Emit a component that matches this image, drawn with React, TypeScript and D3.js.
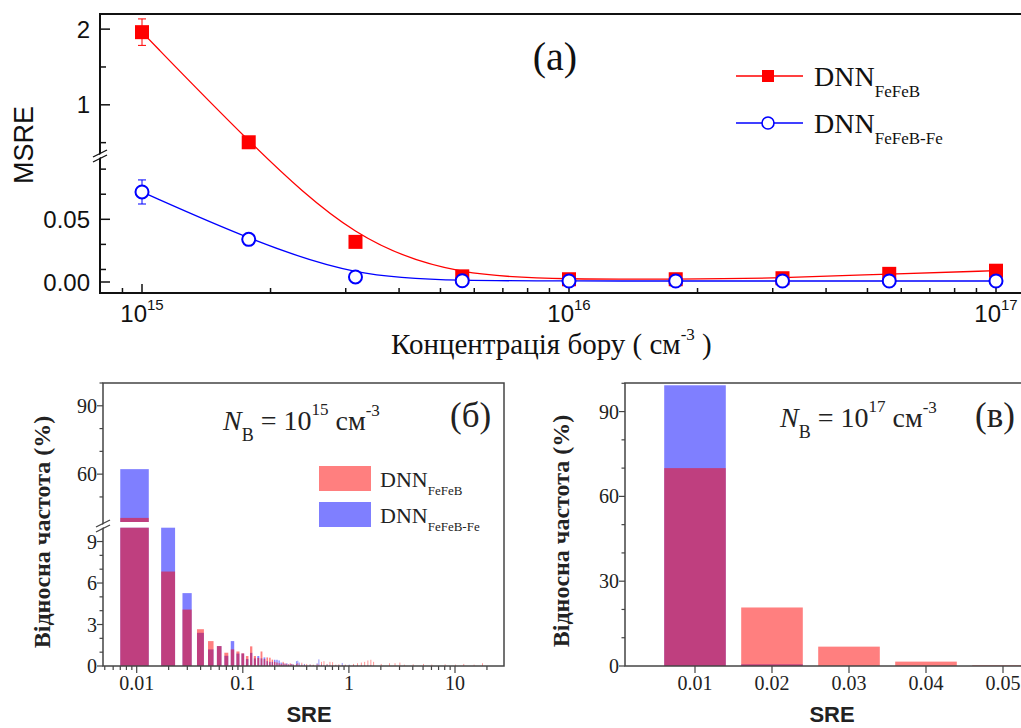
import React from 'react';
import * as d3 from 'd3';

const SERIF = '"Liberation Serif", "Times New Roman", serif';
const SANS = '"Liberation Sans", Arial, sans-serif';

// ---------- (a) MSRE vs boron concentration ----------
const boronConc = [1e15, 1.778e15, 3.162e15, 5.623e15, 1e16, 1.778e16, 3.162e16, 5.623e16, 1e17];
const msreFeFeB = [1.96, 0.505, 0.032, 0.0045, 0.0022, 0.0022, 0.003, 0.0065, 0.009];
const msreFeFeBErr = [0.175, 0, 0, 0, 0, 0, 0, 0, 0];
const msreFeFeBFe = [0.0718, 0.034, 0.004, 0.001, 0.0008, 0.0008, 0.0008, 0.0008, 0.0008];
const msreFeFeBFeErr = [0.0096, 0, 0, 0, 0, 0, 0, 0, 0];
const msreUpperTicks = [1, 2];
const msreUpperMinor = [0.5, 1.5];
const msreLowerTicks = [0, 0.05];
const msreLowerMinor = [0.01, 0.03, 0.07, 0.09];
const msreLowerLabels = ['0.00', '0.05'];
const concDecades = [15, 16, 17];

// ---------- (б) SRE histogram, N_B = 1e15 ----------
const sreBinsB = [
  0.01, 0.02, 0.03, 0.04, 0.05, 0.06, 0.07, 0.08, 0.09, 0.10,
  0.11, 0.12, 0.13, 0.14, 0.15, 0.16, 0.17, 0.18, 0.19, 0.20,
  0.21, 0.22, 0.23, 0.24, 0.25, 0.26, 0.27, 0.28, 0.29, 0.30,
  0.32, 0.33, 0.34, 0.36, 0.38, 0.40, 0.43, 0.46, 0.50, 0.52,
  0.55, 0.58, 0.62, 0.66, 0.70, 0.75, 0.80, 0.86, 0.92, 1.0,
  1.1, 1.2, 1.3, 1.4, 1.5, 1.6, 1.7, 2.0, 2.4, 2.7,
  3.0, 3.3, 4.0, 5.0, 6.0, 8.0, 10, 12, 15, 18,
];
const freqFeFeB_B = [
  40.8, 6.83, 4.08, 2.66, 1.8, 1.44, 0.96, 1.2, 1.05, 0.92,
  0.72, 1.42, 0.72, 0.58, 1.05, 0.5, 0.62, 0.6, 0.46, 0.3,
  0.25, 0.2, 0.15, 0.3, 0.2, 0.15, 0.12, 0.2, 0.15, 0.1,
  0.15, 0.2, 0.1, 0.24, 0.1, 0.15, 0.12, 0.1, 0.15, 0.1,
  0.3, 0.35, 0.15, 0.3, 0.28, 0.1, 0.12, 0.08, 0.1, 0.05,
  0.15, 0.2, 0.25, 0.3, 0.4, 0.45, 0.3, 0.15, 0.2, 0.2,
  0.25, 0.1, 0.12, 0.15, 0.1, 0.12, 0.1, 0.15, 0.1, 0.2,
];
const freqFeFeBFe_B = [
  62.2, 12, 5.27, 2.4, 1.2, 1.44, 0.74, 1.8, 0.9, 0.9,
  0.5, 0.95, 0.55, 0.72, 0.55, 0.62, 0.35, 0.3, 0.3, 0.45,
  0.45, 0.4, 0.25, 0.2, 0.15, 0.2, 0.1, 0.12, 0.15, 0.1,
  0.35, 0.38, 0.25, 0.1, 0.15, 0.05, 0.1, 0.05, 0.2, 0.48,
  0.1, 0.05, 0.1, 0.05, 0.05, 0.05, 0.05, 0.22, 0.05, 0.1,
  0.05, 0.05, 0.05, 0.05, 0.05, 0.05, 0, 0, 0, 0,
  0, 0, 0, 0, 0, 0, 0, 0, 0, 0,
];
const sreTicksB = [0.01, 0.1, 1, 10];
const sreTickLabelsB = ['0.01', '0.1', '1', '10'];
const freqLowerTicksB = [0, 3, 6, 9];
const freqLowerMinorB = [1, 2, 4, 5, 7, 8, 10];
const freqUpperTicksB = [60, 90];
const freqUpperMinorB = [50, 70, 80, 100];

// ---------- (в) SRE histogram, N_B = 1e17 ----------
const sreBinsV = [0.01, 0.02, 0.03, 0.04, 0.05];
const freqFeFeB_V = [70, 20.7, 6.85, 1.55, 0.25];
const freqFeFeBFe_V = [99.3, 0.6, 0, 0, 0];
const sreTickLabelsV = ['0.01', '0.02', '0.03', '0.04', '0.05'];
const freqTicksV = [0, 30, 60, 90];
const freqMinorV = [10, 20, 40, 50, 70, 80, 100];

const RED = '#ff0000';
const BLUE = '#0000ff';

function BreakMark({ x, y, color }: { x: number; y: number; color: string }) {
  return (
    <g>
      <polygon points={`${x - 7},${y + 3} ${x + 7},${y - 4} ${x + 7},${y - 1} ${x - 7},${y + 6}`} fill="#fff" />
      <line x1={x - 7} y1={y + 2} x2={x + 7} y2={y - 5} stroke={color} strokeWidth={1.3} />
      <line x1={x - 7} y1={y + 7} x2={x + 7} y2={y} stroke={color} strokeWidth={1.3} />
    </g>
  );
}

function PanelA() {
  const x = d3.scaleLog().domain([1e15, 1e17]).range([142, 996]);
  const yUp = d3.scaleLinear().domain([0.35, 2.2]).range([154, 14]);
  const yLow = d3.scaleLinear().domain([0, 0.1]).range([282, 156.6]);
  const y = (v: number) => (v >= 0.35 ? yUp(v) : yLow(v));
  const left = 100, top = 14, bottom = 293, right = 1040;

  const line = d3
    .line<[number, number]>()
    .x((d) => x(d[0]))
    .y((d) => y(d[1]))
    .curve(d3.curveBasis);

  const redPts = boronConc.map((c, i) => [c, msreFeFeB[i]] as [number, number]);
  const bluePts = boronConc.map((c, i) => [c, msreFeFeBFe[i]] as [number, number]);

  const minors: number[] = [];
  for (let e = 14; e <= 16; e++) for (let k = 2; k <= 9; k++) {
    const v = k * Math.pow(10, e);
    const px = x(v);
    if (px > left + 1 && px < right) minors.push(v);
  }

  return (
    <g>
      {/* frame */}
      <rect x={left} y={top} width={right - left} height={bottom - top} fill="none" stroke="#111" strokeWidth={2} />
      {/* x ticks (inward) */}
      {minors.map((v, i) => (
        <line key={'mx' + i} x1={x(v)} x2={x(v)} y1={bottom} y2={bottom - 5} stroke="#111" strokeWidth={1.5} />
      ))}
      {concDecades.map((e) => (
        <g key={'dx' + e}>
          <line x1={x(Math.pow(10, e))} x2={x(Math.pow(10, e))} y1={bottom} y2={bottom - 9} stroke="#111" strokeWidth={1.5} />
          <text x={x(Math.pow(10, e))} y={322} textAnchor="middle" fontFamily={SANS} fontSize={24} fill="#111">
            10<tspan dy={-12} fontSize={15}>{e}</tspan>
          </text>
        </g>
      ))}
      {/* y ticks (inward) */}
      {msreUpperTicks.map((v) => (
        <g key={'yu' + v}>
          <line x1={left} x2={left + 10} y1={yUp(v)} y2={yUp(v)} stroke="#111" strokeWidth={1.5} />
          <text x={90} y={yUp(v) + 8.5} textAnchor="end" fontFamily={SANS} fontSize={24} fill="#111">{v}</text>
        </g>
      ))}
      {msreUpperMinor.map((v) => (
        <line key={'yum' + v} x1={left} x2={left + 6} y1={yUp(v)} y2={yUp(v)} stroke="#111" strokeWidth={1.5} />
      ))}
      {msreLowerTicks.map((v, i) => (
        <g key={'yl' + v}>
          <line x1={left} x2={left + 10} y1={yLow(v)} y2={yLow(v)} stroke="#111" strokeWidth={1.5} />
          <text x={90} y={yLow(v) + 8.5} textAnchor="end" fontFamily={SANS} fontSize={24} fill="#111">{msreLowerLabels[i]}</text>
        </g>
      ))}
      {msreLowerMinor.map((v) => (
        <line key={'ylm' + v} x1={left} x2={left + 6} y1={yLow(v)} y2={yLow(v)} stroke="#111" strokeWidth={1.5} />
      ))}
      <BreakMark x={left} y={155} color="#111" />

      {/* curves */}
      <path d={line(redPts) || ''} fill="none" stroke={RED} strokeWidth={1.3} />
      <path d={line(bluePts) || ''} fill="none" stroke={BLUE} strokeWidth={1.3} />

      {/* error bars */}
      {redPts.map((p, i) =>
        msreFeFeBErr[i] > 0 ? (
          <g key={'er' + i} stroke={RED} strokeWidth={1}>
            <line x1={x(p[0])} x2={x(p[0])} y1={y(p[1] + msreFeFeBErr[i])} y2={y(p[1] - msreFeFeBErr[i])} />
            <line x1={x(p[0]) - 4} x2={x(p[0]) + 4} y1={y(p[1] + msreFeFeBErr[i])} y2={y(p[1] + msreFeFeBErr[i])} />
            <line x1={x(p[0]) - 4} x2={x(p[0]) + 4} y1={y(p[1] - msreFeFeBErr[i])} y2={y(p[1] - msreFeFeBErr[i])} />
          </g>
        ) : null
      )}
      {bluePts.map((p, i) =>
        msreFeFeBFeErr[i] > 0 ? (
          <g key={'eb' + i} stroke={BLUE} strokeWidth={1}>
            <line x1={x(p[0])} x2={x(p[0])} y1={y(p[1] + msreFeFeBFeErr[i])} y2={y(p[1] - msreFeFeBFeErr[i])} />
            <line x1={x(p[0]) - 4} x2={x(p[0]) + 4} y1={y(p[1] + msreFeFeBFeErr[i])} y2={y(p[1] + msreFeFeBFeErr[i])} />
            <line x1={x(p[0]) - 4} x2={x(p[0]) + 4} y1={y(p[1] - msreFeFeBFeErr[i])} y2={y(p[1] - msreFeFeBFeErr[i])} />
          </g>
        ) : null
      )}

      {/* markers */}
      {redPts.map((p, i) => (
        <rect key={'rs' + i} x={x(p[0]) - 7} y={y(p[1]) - 7} width={14} height={14} fill={RED} />
      ))}
      {bluePts.map((p, i) => (
        <circle key={'bc' + i} cx={x(p[0])} cy={y(p[1])} r={6.5} fill="#fff" stroke={BLUE} strokeWidth={2} />
      ))}

      {/* labels */}
      <text transform="translate(33,145) rotate(-90)" textAnchor="middle" fontFamily={SANS} fontSize={27} fill="#111">MSRE</text>
      <text x={391} y={354} fontFamily={SERIF} fontSize={29} fill="#111">
        Концентрація бору ( см<tspan dy={-14} fontSize={17}>-3</tspan><tspan dy={14}> )</tspan>
      </text>
      <text x={555} y={70} textAnchor="middle" fontFamily={SERIF} fontSize={40} fill="#111">(a)</text>

      {/* legend */}
      <line x1={736} x2={803} y1={76} y2={76} stroke={RED} strokeWidth={1.3} />
      <rect x={762} y={70} width={12} height={12} fill={RED} />
      <text x={814} y={86} fontFamily={SERIF} fontSize={28} fill="#111">
        DNN<tspan dy={11} fontSize={17}>FeFeB</tspan>
      </text>
      <line x1={736} x2={803} y1={123} y2={123} stroke={BLUE} strokeWidth={1.3} />
      <circle cx={768} cy={123} r={6} fill="#fff" stroke={BLUE} strokeWidth={1.6} />
      <text x={814} y={133} fontFamily={SERIF} fontSize={28} fill="#111">
        DNN<tspan dy={11} fontSize={17}>FeFeB-Fe</tspan>
      </text>
    </g>
  );
}

function PanelB() {
  const x = d3.scaleLog().domain([0.01, 10]).range([136.7, 455]);
  const yLow = d3.scaleLinear().domain([0, 10]).range([666, 527.7]);
  const yUp = d3.scaleLinear().domain([39, 100]).range([522, 383]);
  const left = 103, right = 504, top = 383, bottom = 666;
  const half = 0.003;
  const axisColor = '#444';

  const bars = (vals: number[], color: string, key: string) =>
    sreBinsB.map((c, i) => {
      const v = vals[i];
      if (!v) return null;
      const x0 = x(c - half);
      const x1 = x(c + half);
      const w = Math.max(x1 - x0, 0.8);
      const yl = yLow(Math.min(v, 10));
      return (
        <g key={key + i}>
          <rect x={x0} y={yl} width={w} height={bottom - yl} fill={color} fillOpacity={0.5} />
          {v > 39 ? (
            <rect x={x0} y={yUp(Math.min(v, 100))} width={w} height={522 - yUp(Math.min(v, 100))} fill={color} fillOpacity={0.5} />
          ) : null}
        </g>
      );
    });

  const minors: number[] = [];
  for (let e = -3; e <= 1; e++) for (let k = 2; k <= 9; k++) {
    const v = k * Math.pow(10, e);
    const px = x(v);
    if (px > left && px < right) minors.push(v);
  }

  return (
    <g>
      {bars(freqFeFeBFe_B, BLUE, 'bb')}
      {bars(freqFeFeB_B, RED, 'rb')}
      <rect x={left} y={top} width={right - left} height={bottom - top} fill="none" stroke={axisColor} strokeWidth={1.5} />
      {minors.map((v, i) => (
        <line key={'mx' + i} x1={x(v)} x2={x(v)} y1={bottom} y2={bottom + 4} stroke={axisColor} strokeWidth={1.2} />
      ))}
      {sreTicksB.map((v, i) => (
        <g key={'tx' + i}>
          <line x1={x(v)} x2={x(v)} y1={bottom} y2={bottom + 7} stroke={axisColor} strokeWidth={1.2} />
          <text x={x(v)} y={690} textAnchor="middle" fontFamily={SERIF} fontSize={20} fill="#222">{sreTickLabelsB[i]}</text>
        </g>
      ))}
      {freqLowerTicksB.map((v) => (
        <g key={'yl' + v}>
          <line x1={left} x2={left - 6} y1={yLow(v)} y2={yLow(v)} stroke={axisColor} strokeWidth={1.2} />
          <text x={97} y={yLow(v) + 7} textAnchor="end" fontFamily={SERIF} fontSize={20} fill="#222">{v}</text>
        </g>
      ))}
      {freqLowerMinorB.map((v) => (
        <line key={'ylm' + v} x1={left} x2={left - 3.5} y1={yLow(v)} y2={yLow(v)} stroke={axisColor} strokeWidth={1.2} />
      ))}
      {freqUpperTicksB.map((v) => (
        <g key={'yu' + v}>
          <line x1={left} x2={left - 6} y1={yUp(v)} y2={yUp(v)} stroke={axisColor} strokeWidth={1.2} />
          <text x={97} y={yUp(v) + 7} textAnchor="end" fontFamily={SERIF} fontSize={20} fill="#222">{v}</text>
        </g>
      ))}
      {freqUpperMinorB.map((v) => (
        <line key={'yum' + v} x1={left} x2={left - 3.5} y1={yUp(v)} y2={yUp(v)} stroke={axisColor} strokeWidth={1.2} />
      ))}
      <BreakMark x={left} y={525} color={axisColor} />

      <text transform="translate(50,532) rotate(-90)" textAnchor="middle" fontFamily={SERIF} fontWeight="bold" fontSize={24} fill="#222">
        Відносна частота (%)
      </text>
      <text x={309} y={722} textAnchor="middle" fontFamily={SANS} fontWeight="bold" fontSize={22} fill="#222">SRE</text>

      <text x={223} y={430} fontFamily={SERIF} fontSize={28} fill="#222">
        <tspan fontStyle="italic">N</tspan>
        <tspan dy={11} fontSize={18}>B</tspan>
        <tspan dy={-11}> = 10</tspan>
        <tspan dy={-15} fontSize={17}>15</tspan>
        <tspan dy={15}> см</tspan>
        <tspan dy={-14} fontSize={17}>-3</tspan>
      </text>
      <text x={450} y={427} fontFamily={SERIF} fontSize={35} fill="#222">(б)</text>

      <rect x={319} y={466} width={52} height={25} fill={RED} fillOpacity={0.5} />
      <text x={380} y={487} fontFamily={SERIF} fontSize={22} fill="#222">
        DNN<tspan dy={8} fontSize={13}>FeFeB</tspan>
      </text>
      <rect x={319} y={502} width={52} height={25} fill={BLUE} fillOpacity={0.5} />
      <text x={380} y={523} fontFamily={SERIF} fontSize={22} fill="#222">
        DNN<tspan dy={8} fontSize={13}>FeFeB-Fe</tspan>
      </text>
    </g>
  );
}

function PanelV() {
  const x = d3.scaleLinear().domain([0.01, 0.05]).range([695, 1003]);
  const y = d3.scaleLinear().domain([0, 100]).range([666, 383.3]);
  const left = 625, right = 1040, top = 383, bottom = 666;
  const half = 0.004;
  const axisColor = '#444';

  const bars = (vals: number[], color: string, key: string) =>
    sreBinsV.map((c, i) =>
      vals[i] > 0 ? (
        <rect key={key + i} x={x(c - half)} y={y(vals[i])} width={x(c + half) - x(c - half)} height={bottom - y(vals[i])}
          fill={color} fillOpacity={0.5} />
      ) : null
    );

  return (
    <g>
      {bars(freqFeFeBFe_V, BLUE, 'bv')}
      {bars(freqFeFeB_V, RED, 'rv')}
      <rect x={left} y={top} width={right - left} height={bottom - top} fill="none" stroke={axisColor} strokeWidth={1.5} />
      {sreBinsV.map((v, i) => (
        <g key={'tx' + i}>
          <line x1={x(v)} x2={x(v)} y1={bottom} y2={bottom + 7} stroke={axisColor} strokeWidth={1.2} />
          <text x={x(v)} y={690} textAnchor="middle" fontFamily={SERIF} fontSize={20} fill="#222">{sreTickLabelsV[i]}</text>
        </g>
      ))}
      {freqTicksV.map((v) => (
        <g key={'ty' + v}>
          <line x1={left} x2={left - 6} y1={y(v)} y2={y(v)} stroke={axisColor} strokeWidth={1.2} />
          <text x={619} y={y(v) + 7} textAnchor="end" fontFamily={SERIF} fontSize={20} fill="#222">{v}</text>
        </g>
      ))}
      {freqMinorV.map((v) => (
        <line key={'tym' + v} x1={left} x2={left - 3.5} y1={y(v)} y2={y(v)} stroke={axisColor} strokeWidth={1.2} />
      ))}

      <text transform="translate(569,531) rotate(-90)" textAnchor="middle" fontFamily={SERIF} fontWeight="bold" fontSize={24} fill="#222">
        Відносна частота (%)
      </text>
      <text x={832} y={722} textAnchor="middle" fontFamily={SANS} fontWeight="bold" fontSize={22} fill="#222">SRE</text>

      <text x={780} y={427} fontFamily={SERIF} fontSize={28} fill="#222">
        <tspan fontStyle="italic">N</tspan>
        <tspan dy={11} fontSize={18}>B</tspan>
        <tspan dy={-11}> = 10</tspan>
        <tspan dy={-15} fontSize={17}>17</tspan>
        <tspan dy={15}> см</tspan>
        <tspan dy={-14} fontSize={17}>-3</tspan>
      </text>
      <text x={975} y={427} fontFamily={SERIF} fontSize={35} fill="#222">(в)</text>
    </g>
  );
}

export default function App() {
  return (
    <svg width={1021} height={728} style={{ position: 'absolute', left: 0, top: 0, background: '#fff' }}>
      <PanelA />
      <PanelB />
      <PanelV />
    </svg>
  );
}
